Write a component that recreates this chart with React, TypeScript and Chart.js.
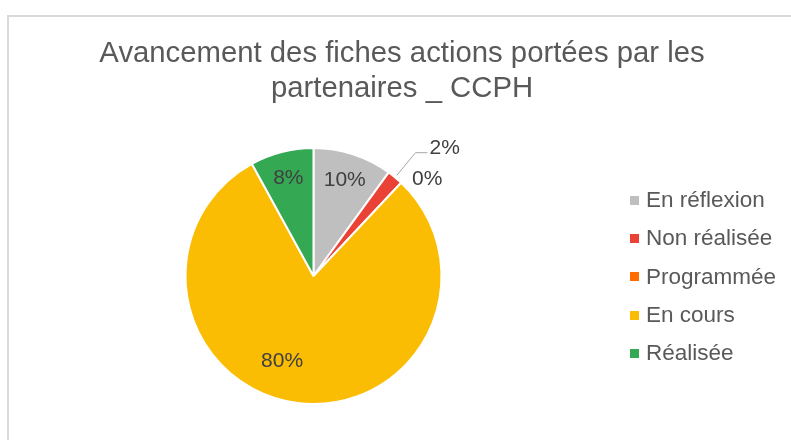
import React, { useEffect, useRef } from "react";
import { Chart, registerables } from "chart.js";

Chart.register(...registerables);

const titleLines = ["Avancement des fiches actions portées par les", "partenaires _ CCPH"];
const categories = ["En réflexion", "Non réalisée", "Programmée", "En cours", "Réalisée"];
const counts = [5, 1, 0, 40, 4];
const colors = ["#BFBFBF", "#EA4335", "#FF6D01", "#FBBC04", "#34A853"];

const FONT = "'Liberation Sans', Arial, sans-serif";

const decorPlugin = {
  id: "decor",
  beforeDraw(chart: any) {
    const ctx = chart.ctx;
    ctx.save();
    ctx.fillStyle = "#FFFFFF";
    ctx.fillRect(0, 0, chart.width, chart.height);
    ctx.fillStyle = "#D9D9D9";
    ctx.fillRect(7, 15, chart.width - 7, 2);
    ctx.fillRect(7, 15, 2, chart.height - 15);
    // title
    ctx.fillStyle = "#595959";
    ctx.font = `29.3px ${FONT}`;
    ctx.textAlign = "center";
    ctx.textBaseline = "alphabetic";
    ctx.fillText(titleLines[0], 402, 62);
    ctx.fillText(titleLines[1], 402, 97);
    ctx.restore();
  },
  afterDatasetsDraw(chart: any) {
    const ctx = chart.ctx;
    const meta = chart.getDatasetMeta(0);
    const data = chart.data.datasets[0].data as number[];
    const total = data.reduce((a, b) => a + b, 0);
    ctx.save();
    ctx.font = `21px ${FONT}`;
    ctx.fillStyle = "#404040";
    meta.data.forEach((arc: any, i: number) => {
      const { x, y, startAngle, endAngle, outerRadius } = arc.getProps(
        ["x", "y", "startAngle", "endAngle", "outerRadius"],
        true
      );
      const pct = Math.round((data[i] / total) * 100) + "%";
      const mid = (startAngle + endAngle) / 2;
      const frac = data[i] / total;
      if (frac >= 0.05) {
        let r = 0.79 * outerRadius;
        let a = mid;
        if (frac > 0.5) {
          r = 0.71 * outerRadius;
          a = mid + (13 * Math.PI) / 180;
        }
        ctx.textAlign = "center";
        ctx.textBaseline = "middle";
        ctx.fillText(pct, x + Math.cos(a) * r, y + Math.sin(a) * r);
      } else if (frac > 0) {
        const ex = x + Math.cos(mid) * (outerRadius + 3);
        const ey = y + Math.sin(mid) * (outerRadius + 3);
        const bx = x + Math.cos(mid) * outerRadius * 1.25;
        const by = y + Math.sin(mid) * outerRadius * 1.25;
        ctx.strokeStyle = "#A6A6A6";
        ctx.lineWidth = 1;
        ctx.beginPath();
        ctx.moveTo(ex, ey);
        ctx.lineTo(bx, by);
        ctx.lineTo(bx + 12, by);
        ctx.stroke();
        ctx.textAlign = "left";
        ctx.textBaseline = "middle";
        ctx.fillText(pct, bx + 14, by - 5);
      } else {
        const ex = x + Math.cos(mid) * outerRadius;
        const ey = y + Math.sin(mid) * outerRadius;
        ctx.textAlign = "left";
        ctx.textBaseline = "middle";
        ctx.fillText(pct, ex + 11, ey - 3);
      }
    });
    // legend
    ctx.font = `22.5px ${FONT}`;
    ctx.textAlign = "left";
    ctx.textBaseline = "middle";
    categories.forEach((label, i) => {
      const cy = 200 + i * 38.2;
      ctx.fillStyle = colors[i];
      ctx.fillRect(630, Math.round(cy) - 4, 9, 9);
      ctx.fillStyle = "#595959";
      ctx.fillText(label, 646, cy + 1);
    });
    ctx.restore();
  },
};

export default function App() {
  const ref = useRef<HTMLCanvasElement>(null);
  useEffect(() => {
    if (!ref.current) return;
    const chart = new Chart(ref.current, {
      type: "pie",
      data: {
        labels: categories,
        datasets: [
          {
            data: counts,
            backgroundColor: colors,
            borderColor: "#FFFFFF",
            borderWidth: 2,
          },
        ],
      },
      options: {
        responsive: false,
        animation: false,
        devicePixelRatio: 1,
        layout: { padding: { left: 184.5, right: 348.5, top: 147, bottom: 35 } },
        plugins: {
          legend: { display: false },
          title: { display: false },
          tooltip: { enabled: false },
        },
      },
      plugins: [decorPlugin],
    });
    return () => chart.destroy();
  }, []);
  return (
    <div style={{ position: "fixed", left: 0, top: 0, width: 791, height: 440, background: "#fff" }}>
      <canvas ref={ref} width={791} height={440} style={{ width: 791, height: 440, display: "block" }} />
    </div>
  );
}
